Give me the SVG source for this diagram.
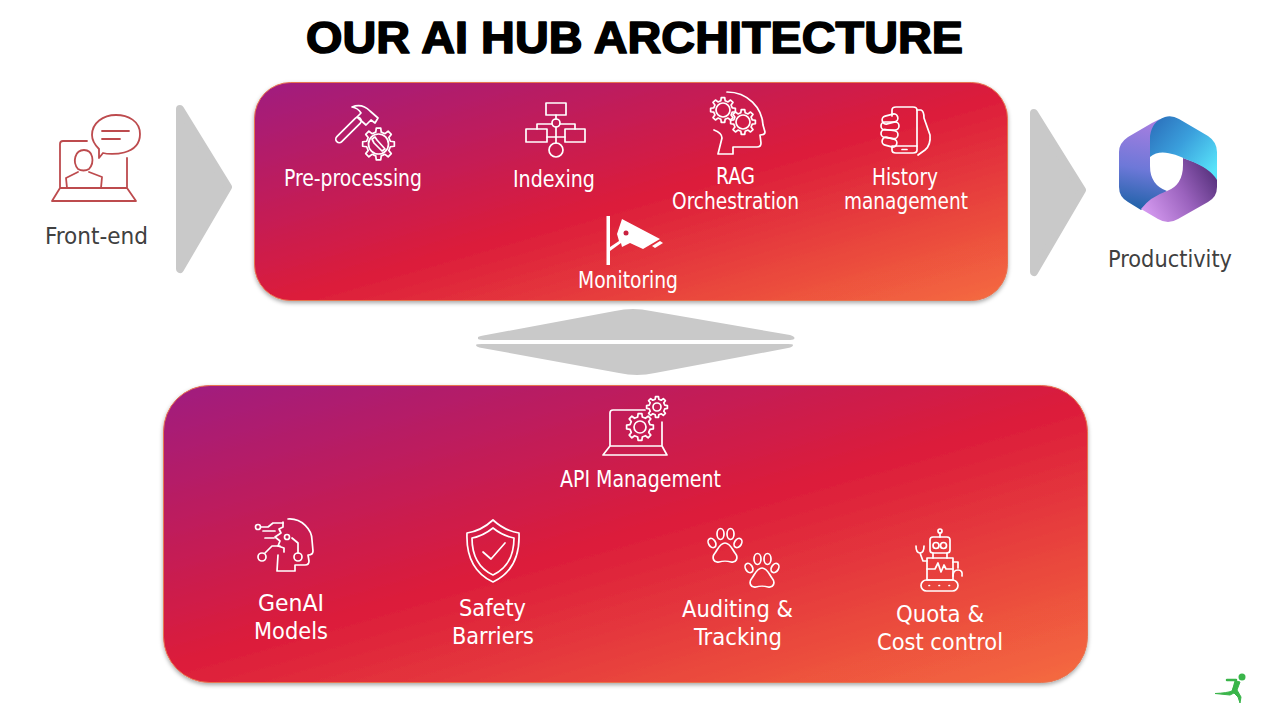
<svg xmlns="http://www.w3.org/2000/svg" xmlns:xlink="http://www.w3.org/1999/xlink" width="1280" height="720" viewBox="0 0 1280 720">
<style>
text{font-family:"DejaVu Sans Condensed","DejaVu Sans",sans-serif;font-size:22.5px;fill:#fff}
.dark{fill:#404040}
.title{font-family:"Liberation Sans",Arial,sans-serif;font-weight:700;font-size:44px;fill:#000;stroke:#000;stroke-width:1.6px;stroke-linejoin:round}
.ic{fill:none;stroke:#fff;stroke-width:1.7;stroke-linecap:round;stroke-linejoin:round}
.fe{fill:none;stroke:#bd4b4e;stroke-width:1.8;stroke-linecap:round;stroke-linejoin:round}
.arr{fill:#c9c9c9;stroke:#c9c9c9;stroke-width:8;stroke-linejoin:round}
.arr2{fill:#c9c9c9}
</style>
<defs>
<linearGradient id="p1" gradientUnits="userSpaceOnUse" x1="254" y1="82" x2="370" y2="485">
<stop offset="0" stop-color="#9f1f80"/><stop offset=".52" stop-color="#dc1c3a"/><stop offset="1" stop-color="#f56c40"/></linearGradient>
<linearGradient id="p2" gradientUnits="userSpaceOnUse" x1="163" y1="385" x2="313" y2="906">
<stop offset="0" stop-color="#9f1f80"/><stop offset=".5" stop-color="#dc1c3a"/><stop offset="1" stop-color="#f56c40"/></linearGradient>
<linearGradient id="a" x1=".5" y1="0" x2=".4" y2="1"><stop offset="0" stop-color="#a77ee0"/><stop offset=".55" stop-color="#6d78d8"/><stop offset="1" stop-color="#1f62a8"/></linearGradient>
<linearGradient id="b" x1="0" y1="0" x2="1" y2=".8"><stop offset="0" stop-color="#2a6bb8"/><stop offset=".5" stop-color="#3a9fdc"/><stop offset="1" stop-color="#58e4fa"/></linearGradient>
<linearGradient id="c" x1="0" y1=".8" x2="1" y2=".3"><stop offset="0" stop-color="#d79cf2"/><stop offset=".55" stop-color="#9a62bd"/><stop offset="1" stop-color="#58327e"/></linearGradient>
<filter id="sh" x="-5%" y="-5%" width="110%" height="112%"><feDropShadow dx="0" dy="2" stdDeviation="2" flood-color="#000" flood-opacity=".35"/></filter>
<polygon id="gear" points="7.4,-1.71 9.9,-1.39 9.9,1.39 7.4,1.71 6.45,4.03 7.99,6.02 6.02,7.99 4.03,6.45 1.71,7.4 1.39,9.9 -1.39,9.9 -1.71,7.4 -4.03,6.45 -6.02,7.99 -7.99,6.02 -6.45,4.03 -7.4,1.71 -9.9,1.39 -9.9,-1.39 -7.4,-1.71 -6.45,-4.03 -7.99,-6.02 -6.02,-7.99 -4.03,-6.45 -1.71,-7.4 -1.39,-9.9 1.39,-9.9 1.71,-7.4 4.03,-6.45 6.02,-7.99 7.99,-6.02 6.45,-4.03" vector-effect="non-scaling-stroke"/>
<g id="paw">
<ellipse cx="-13" cy="-5" rx="3.5" ry="5" transform="rotate(-30 -13 -5)"/><ellipse cx="-4.500" cy="-14" rx="3.500" ry="5.500"/><ellipse cx="5.500" cy="-14" rx="3.500" ry="5.500"/><ellipse cx="13" cy="-5" rx="3.500" ry="5" transform="rotate(30 13 -5)"/>
<path d="M0,-5 C5,-5 7,1 10,5 C14,10 11,15 6,14 C3,13 -3,13 -6,14 C-11,15 -14,10 -10,5 C-7,1 -5,-5 0,-5Z"/>
</g>
</defs>
<rect width="1280" height="720" fill="#fff"/>
<text id="title" class="title" x="306" y="53" textLength="657" lengthAdjust="spacingAndGlyphs">OUR AI HUB ARCHITECTURE</text>

<g id="connectors">
<polygon class="arr" points="180,109 228,187 180,269"/>
<polygon class="arr" points="1034,113 1082,190 1034,272"/>
<path class="arr2" d="M478,337 Q480,336 486,335 L615,311 Q633,307 651,311 L790,335 Q796,337 794,339 Q793,340 788,340 L486,340 Q480,340 478,339Z"/>
<path class="arr2" d="M476,345 Q476,344 482,344 L788,344 Q793,344 793,345 Q793,347 788,348 L655,373 Q637,377 619,373 L482,348 Q476,347 476,345Z"/>
</g>

<g id="panel-top"><rect x="254.500" y="82.500" width="753" height="218" rx="36" fill="url(#p1)" stroke="#e8734f" stroke-width="1" filter="url(#sh)"/></g>
<g id="panel-bottom"><rect x="163.500" y="385.500" width="924" height="297" rx="46" fill="url(#p2)" stroke="#e8734f" stroke-width="1" filter="url(#sh)"/></g>

<g id="front-end">
<g class="fe">
<path d="M87,141 H63 Q60,141 60,144 V188 M127,158 V188 M52,201 L60,188 H127 L136,201Z"/>
<path d="M99,158 L103,153 C110,155 140,156 140,134 C140,121 128,115 116,115 C103,115 92,123 92,135 C92,141 96,146 99,149Z"/>
<path d="M102,131 H129 M102,139 H120"/>
<path d="M78,169 C72,162 75,150 84,150 C93,150 95,162 89,169 C86,171 81,171 78,169Z"/>
<path d="M67,188 L66,178 L78,172 M89,172 L102,177 L101,188"/>
</g>
<text class="dark" x="45" y="244" textLength="103" lengthAdjust="spacingAndGlyphs">Front-end</text>
</g>

<g id="productivity">
<path fill="url(#a)" d="M1152,123 L1128,137 Q1119,143 1119,152 V187 Q1119,197 1128,202 L1141,210 Q1148,204 1167,191 Q1150,185 1150,166 V152 Q1150,128 1160,119Z"/>
<path fill="url(#c)" d="M1183,158 V165 Q1183,185 1167,191 Q1150,197 1141,209 L1158,219 Q1168,225 1178,219 L1208,202 Q1217,197 1217,187 V176 Q1205,165 1183,158Z"/>
<path fill="url(#b)" d="M1150,157 V136 Q1152,121 1165,117 Q1172,115 1179,119 L1208,136 Q1217,142 1217,152 V180 Q1210,168 1188,160 C1175,154 1160,148 1150,157Z"/>
<text class="dark" x="1108" y="267" textLength="124" lengthAdjust="spacingAndGlyphs">Productivity</text>
</g>

<g id="pre-processing">
<g class="ic">
<path d="M352,107 Q362,103 370,111 L378,118 L375,123 L371,120 L366,125 L357,117 L361,113 Q358,108 352,107Z"/>
<rect x="332" y="126.500" width="33" height="7" rx="3.500" transform="rotate(-45 348.500 130)"/>
<use href="#gear" transform="translate(378.500 144) scale(1.6)"/>
<circle cx="378.500" cy="144" r="10"/>
<path d="M372,139 L375,137 L377,140 L385,149 L382,151 L374,143Z"/>
</g>
<text x="284" y="186" textLength="138" lengthAdjust="spacingAndGlyphs">Pre-processing</text>
</g>

<g id="indexing">
<g class="ic">
<rect x="546" y="103" width="20" height="12"/><circle cx="556" cy="123" r="4"/>
<rect x="526" y="129" width="21" height="13"/><rect x="565" y="129" width="20" height="13"/><circle cx="556" cy="150" r="7"/>
<path d="M556,115 V119 M537,129 V124 H552 M560,124 H575 V129 M556,127 V143 M547,137 H565"/>
</g>
<text x="513" y="187" textLength="82" lengthAdjust="spacingAndGlyphs">Indexing</text>
</g>

<g id="rag">
<g class="ic">
<path d="M727,92 C748,92 762,108 763,125 L765,132 Q765,135 760,135 L761,143 Q761,147 757,147 H733 V154 H718 L722,138 Q722,133 714,130"/>
<use href="#gear" transform="translate(723 110) scale(1.25)"/>
<circle cx="723" cy="110" r="7"/>
<use href="#gear" transform="translate(743 122) scale(1.25)"/>
<circle cx="743" cy="122" r="7"/>
</g>
<text x="716" y="184" textLength="39" lengthAdjust="spacingAndGlyphs">RAG</text>
<text x="672" y="209" textLength="127" lengthAdjust="spacingAndGlyphs">Orchestration</text>
</g>

<g id="history">
<g class="ic">
<path d="M892,116 V110 Q892,107 896,107 H913 Q917,107 917,110 V150 Q917,153 913,153 H896 Q892,153 892,150 V147"/>
<path d="M892,146 H917 M902,149.500 H907"/>
<path d="M917,110 H921 Q924,111 924,118 L930,135 Q931,145 925,150 L918,155"/>
<rect x="882" y="115" width="16" height="8" rx="4" transform="rotate(-15 890 119)"/>
<rect x="881" y="122" width="18" height="8" rx="4"/>
<rect x="881" y="130" width="17" height="8" rx="4" transform="rotate(8 889 134)"/>
<rect x="882" y="138" width="15" height="8" rx="4" transform="rotate(15 889 142)"/>
</g>
<text x="872" y="185" textLength="66" lengthAdjust="spacingAndGlyphs">History</text>
<text x="844" y="209" textLength="124" lengthAdjust="spacingAndGlyphs">management</text>
</g>

<g id="monitoring">
<rect x="606.500" y="216" width="3.500" height="49" fill="#fff"/>
<path d="M610,247 L619,241 L617,234 L622,219 L660,239 L643,249 L630,243 L622,247 L621,243 L610,251Z" fill="#fff"/>
<circle cx="626" cy="233" r="2.500" fill="#c9203f"/>
<path d="M652,246 L660,241 L663,243 L655,248Z" fill="#fff"/>
<text x="578" y="288" textLength="100" lengthAdjust="spacingAndGlyphs">Monitoring</text>
</g>

<g id="api-management">
<g class="ic">
<path d="M645,410 H613 Q610,410 610,413 V446 M662,422 V446 M603,455 L610,446 H662 L667,455Z"/>
<use href="#gear" transform="translate(640 427) scale(1.35)"/>
<circle cx="640" cy="427" r="6"/>
<use href="#gear" transform="translate(657 407) scale(1.05)"/>
<circle cx="657" cy="407" r="4"/>
</g>
<text x="560" y="487" textLength="161" lengthAdjust="spacingAndGlyphs">API Management</text>
</g>

<g id="genai">
<g class="ic">
<path d="M288,519 C302,518 312,530 312,540 L313,551 Q313,555 308,555 L309,561 Q309,565 305,565 H295 V571 H277 L278,555"/>
<path d="M261,527 H268 L273,523 H283 M263,531 H275 M265,538 H274"/>
<circle cx="258" cy="527" r="2.500"/><circle cx="262" cy="557" r="4"/><circle cx="298" cy="557" r="4"/><circle cx="287" cy="537" r="2.500"/>
<path d="M265,553 L272,546 H280 M298,553 V543 L292,538"/>
<path d="M283,522 V527 L279,529 L281,533 L275,537 L280,541 L278,546 L284,548 L284,552"/>
</g>
<text x="258" y="611" textLength="66" lengthAdjust="spacingAndGlyphs">GenAI</text>
<text x="254" y="639" textLength="74" lengthAdjust="spacingAndGlyphs">Models</text>
</g>

<g id="safety">
<g class="ic">
<path d="M493,520 Q505,531 519,533 C520,557 512,573 493,582 C474,573 466,557 467,533 Q481,531 493,520Z"/>
<path d="M493,528 Q503,536 514,538 C514,556 508,568 493,575 C478,568 472,556 472,538 Q483,536 493,528Z"/>
<path d="M483,552 L491,559 L505,543"/>
</g>
<text x="459" y="616" textLength="67" lengthAdjust="spacingAndGlyphs">Safety</text>
<text x="452" y="644" textLength="82" lengthAdjust="spacingAndGlyphs">Barriers</text>
</g>

<g id="auditing">
<g class="ic">
<use href="#paw" transform="translate(725 548)"/>
<use href="#paw" transform="translate(762 573)"/>
</g>
<text x="682" y="617" textLength="111" lengthAdjust="spacingAndGlyphs">Auditing &amp;</text>
<text x="694" y="645" textLength="88" lengthAdjust="spacingAndGlyphs">Tracking</text>
</g>

<g id="quota">
<g class="ic">
<circle cx="940" cy="531" r="2"/><path d="M940,533 V537"/>
<rect x="930" y="537" width="20" height="16" rx="3"/>
<circle cx="936" cy="545.500" r="3"/><circle cx="943.500" cy="545.500" r="3"/>
<path d="M933,553 V558 M947,553 V558"/>
<rect x="927" y="558" width="26" height="22"/>
<path d="M927,569 H935 L938,563 L941,572 L944,565 L946,569 H953"/>
<rect x="921" y="580" width="37" height="11" rx="5.500"/>
<path d="M929,585.500 H929.500 M939,585.500 H939.500 M949,585.500 H949.500"/>
<path d="M927,561 H923 L920,553 M916,546 Q916,553 920,553 Q924,553 924,546"/>
<path d="M953,562 H958 V568 M953,576 Q953,570 958,570 Q963,570 962,576"/>
</g>
<text x="896" y="622" textLength="88" lengthAdjust="spacingAndGlyphs">Quota &amp;</text>
<text x="877" y="650" textLength="126" lengthAdjust="spacingAndGlyphs">Cost control</text>
</g>

<g id="logo">
<circle cx="1242" cy="677" r="3.500" fill="#3ab54a"/>
<path d="M1227,680 H1236 L1233,691" fill="none" stroke="#3ab54a" stroke-width="2.500" stroke-linecap="round" stroke-linejoin="round"/>
<path d="M1236,681 L1232,691 Q1227,693 1215,693.500 L1230,695 L1234,693 L1238,697 L1240,703 L1241,697 L1237,690 L1240,682Z" fill="#3ab54a" stroke="#3ab54a" stroke-width="1" stroke-linejoin="round"/>
</g>
</svg>
